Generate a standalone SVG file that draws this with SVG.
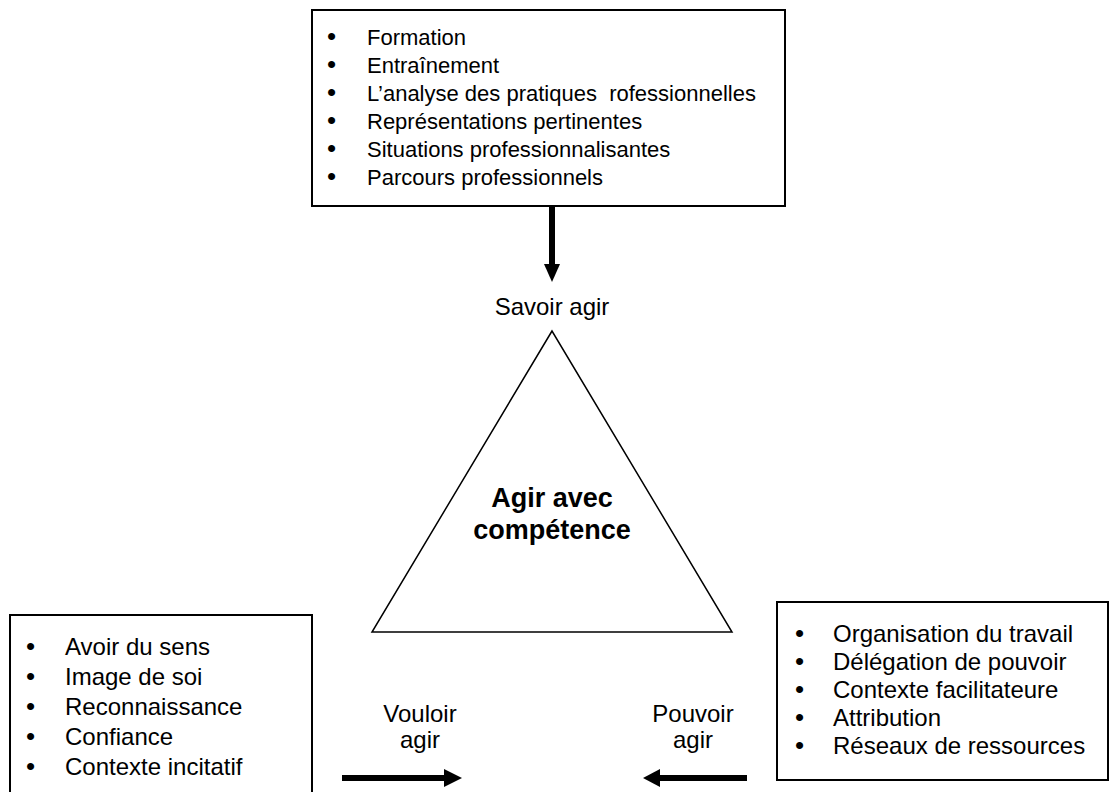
<svg xmlns="http://www.w3.org/2000/svg" width="1110" height="792" viewBox="0 0 1110 792">
<style>
.box{fill:#fff;stroke:#000;stroke-width:2}
.t{font-family:"Liberation Sans",Arial,sans-serif;fill:#000}
.s22{font-size:22px}
.s24{font-size:24px}
.b{font-weight:bold;font-size:27px}
.c{text-anchor:middle}
.bu{font-size:26px}
.arr{stroke:#000;stroke-width:6;fill:none}
.head{fill:#000}
</style>
<rect width="1110" height="792" fill="#fff"/>
<g id="top-box">
<rect class="box" x="312" y="10" width="473" height="196"/>
<g class="t s22">
<text class="bu" x="327" y="45">•</text><text x="367" y="45">Formation</text>
<text class="bu" x="327" y="73">•</text><text x="367" y="73">Entraînement</text>
<text class="bu" x="327" y="101">•</text><text x="367" y="101">L’analyse des pratiques&#160; rofessionnelles</text>
<text class="bu" x="327" y="129">•</text><text x="367" y="129">Représentations pertinentes</text>
<text class="bu" x="327" y="157">•</text><text x="367" y="157">Situations professionnalisantes</text>
<text class="bu" x="327" y="185">•</text><text x="367" y="185">Parcours professionnels</text>
</g>
</g>
<g id="triangle">
<polygon points="552,331 372,632 732,632" fill="#fff" stroke="#000" stroke-width="1.5"/>
<text class="t b c" x="552" y="507">Agir avec</text>
<text class="t b c" x="552" y="539">compétence</text>
</g>
<g id="savoir">
<text class="t s24 c" x="552" y="315">Savoir agir</text>
</g>
<g id="vouloir">
<text class="t s24 c" x="420" y="722">Vouloir</text>
<text class="t s24 c" x="420" y="748">agir</text>
</g>
<g id="pouvoir">
<text class="t s24 c" x="693" y="722">Pouvoir</text>
<text class="t s24 c" x="693" y="748">agir</text>
</g>
<g id="left-box">
<rect class="box" x="10" y="615" width="302" height="190"/>
<g class="t s24">
<text class="bu" x="26" y="655">•</text><text x="65" y="655">Avoir du sens</text>
<text class="bu" x="26" y="685">•</text><text x="65" y="685">Image de soi</text>
<text class="bu" x="26" y="715">•</text><text x="65" y="715">Reconnaissance</text>
<text class="bu" x="26" y="745">•</text><text x="65" y="745">Confiance</text>
<text class="bu" x="26" y="775">•</text><text x="65" y="775">Contexte incitatif</text>
</g>
</g>
<g id="right-box">
<rect class="box" x="777" y="602" width="331" height="178"/>
<g class="t s24">
<text class="bu" x="795" y="642">•</text><text x="833" y="642">Organisation du travail</text>
<text class="bu" x="795" y="670">•</text><text x="833" y="670">Délégation de pouvoir</text>
<text class="bu" x="795" y="698">•</text><text x="833" y="698">Contexte facilitateure</text>
<text class="bu" x="795" y="726">•</text><text x="833" y="726">Attribution</text>
<text class="bu" x="795" y="754">•</text><text x="833" y="754">Réseaux de ressources</text>
</g>
</g>
<g id="connectors">
<line class="arr" x1="552" y1="206" x2="552" y2="266"/>
<polygon class="head" points="544,264 560,264 552,282"/>
<line class="arr" x1="342" y1="778" x2="446" y2="778"/>
<polygon class="head" points="444,769 444,787 462,778"/>
<line class="arr" x1="747" y1="778" x2="658" y2="778"/>
<polygon class="head" points="660,769 660,787 643,778"/>
</g>
</svg>
